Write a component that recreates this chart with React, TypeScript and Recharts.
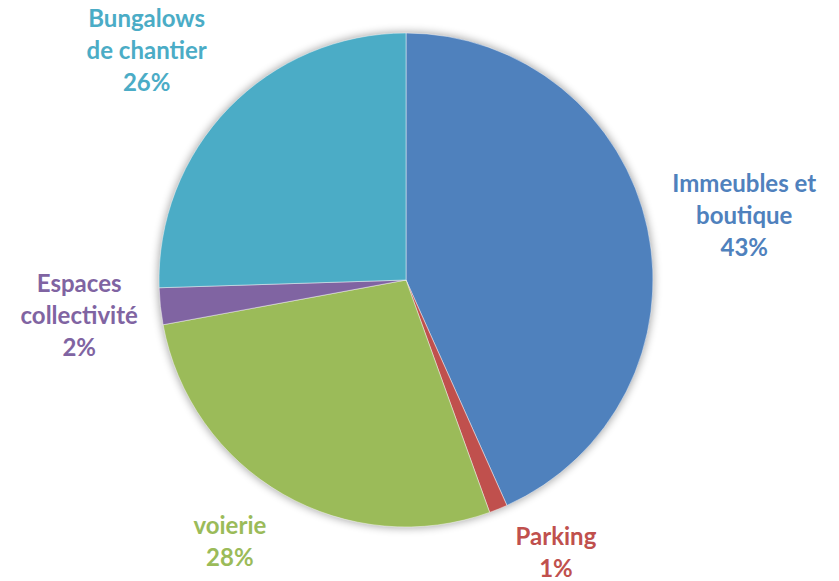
import React from "react";
import { PieChart, Pie, Cell } from "recharts";

const categories = ["Immeubles et boutique", "Parking", "voierie", "Espaces collectivité", "Bungalows de chantier"];
const values = [43.3, 1.2, 27.6, 2.4, 25.5];
const percentLabels = ["43%", "1%", "28%", "2%", "26%"];
const labelLines = [["Immeubles et", "boutique"], ["Parking"], ["voierie"], ["Espaces", "collectivité"], ["Bungalows", "de chantier"]];

const COLORS = ["#4F81BD", "#C0504D", "#9BBB59", "#8064A2", "#4BACC6"];

const data = categories.map((name, i) => ({ name, value: values[i], pct: percentLabels[i], lines: labelLines[i], color: COLORS[i] }));

// label placement tweaks (dx, dy) relative to computed position
const NUDGE: Record<string, [number, number]> = {
  "Immeubles et boutique": [6, -1],
  "Parking": [35, -2],
  "voierie": [-23, 5],
  "Espaces collectivité": [11, 1],
  "Bungalows de chantier": [-20, -15],
};

const FONT = "Lato, 'Open Sans', sans-serif";
const FS = 24;
const LH = 32;

const renderLabel = (props: any) => {
  const { cx, cy, midAngle, outerRadius, payload, index } = props;
  const d = payload && payload.lines ? payload : data[index];
  const lines: string[] = [...d.lines, d.pct];
  const rad = (Math.PI / 180) * midAngle;
  const c = Math.cos(rad);
  const s = -Math.sin(rad);
  const halfW = Math.max(...lines.map((l) => l.length)) * FS * 0.27;
  const halfH = (lines.length * LH) / 2;
  const g = outerRadius + 15;
  const nd = NUDGE[d.name] || [0, 0];
  const x = cx + c * g + c * halfW + nd[0];
  const y = cy + s * g + s * halfH + nd[1];
  const top = y - halfH + LH / 2;
  return (
    <text
      x={x}
      y={top}
      textAnchor="middle"
      dominantBaseline="central"
      fill={d.color}
      fontFamily={FONT}
      fontWeight="bold"
      fontSize={FS}
    >
      {lines.map((l, i) => (
        <tspan key={i} x={x} y={top + i * LH}>
          {l}
        </tspan>
      ))}
    </text>
  );
};

export default function App() {
  return (
    <div style={{ position: "absolute", left: 0, top: 0, width: 839, height: 581, background: "#fff" }}>
      <PieChart width={839} height={581} margin={{ top: 0, right: 0, bottom: 0, left: 0 }}>
        <defs>
          <filter id="pieShadow" x="-20%" y="-20%" width="140%" height="140%">
            <feGaussianBlur in="SourceAlpha" stdDeviation="4" />
            <feOffset dx="0" dy="0" result="b" />
            <feComponentTransfer>
              <feFuncA type="linear" slope="0.35" />
            </feComponentTransfer>
          </filter>
        </defs>
        <Pie
          data={[{ v: 1 }]}
          dataKey="v"
          cx={406}
          cy={280}
          outerRadius={248}
          startAngle={90}
          endAngle={-270}
          fill="#000"
          stroke="none"
          style={{ filter: "url(#pieShadow)" }}
          isAnimationActive={false}
          legendType="none"
        />
        <Pie
          data={data}
          dataKey="value"
          nameKey="name"
          cx={406}
          cy={280}
          outerRadius={247}
          startAngle={90}
          endAngle={-270}
          stroke="rgba(255,255,255,0.45)"
          strokeWidth={1}
          label={renderLabel}
          labelLine={false}
          isAnimationActive={false}
        >
          {data.map((d, i) => (
            <Cell key={i} fill={d.color} />
          ))}
        </Pie>
      </PieChart>
    </div>
  );
}
